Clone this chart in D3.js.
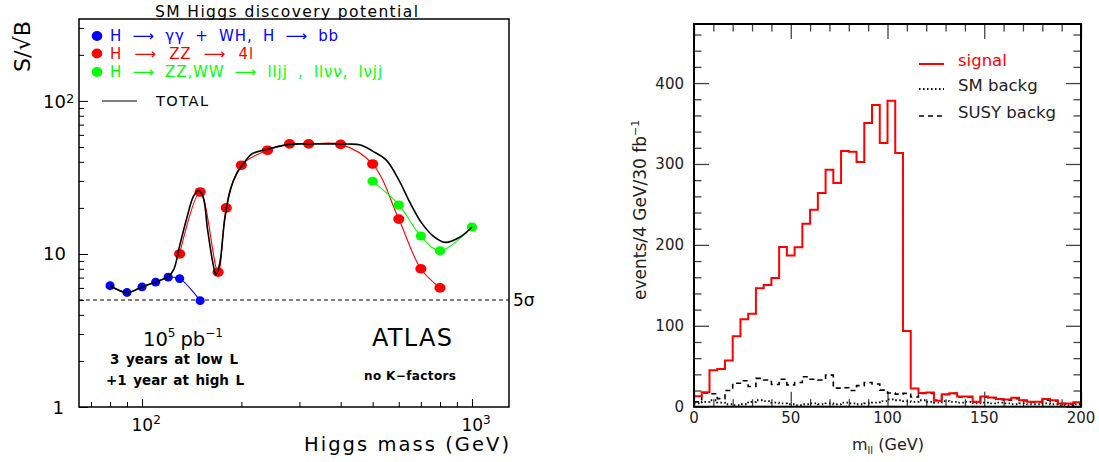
<!DOCTYPE html>
<html>
<head>
<meta charset="utf-8">
<script src="https://cdn.jsdelivr.net/npm/d3@7"></script>
<style>
body { margin: 0; background: #fff; }
svg { display: block; }
text { font-family: "DejaVu Sans", sans-serif; }
</style>
</head>
<body>
<svg id="chart" width="1099" height="462"></svg>
<script>
// LEFT: SM Higgs discovery potential (S/sqrt(B) vs Higgs mass)
const blueMass = [80, 90, 100, 110, 120, 130, 150];
const blueSig = [6.2, 5.6, 6.1, 6.55, 7.05, 6.9, 4.95];
const redMass = [130, 150, 170, 180, 200, 240, 280, 320, 400, 500, 600, 700, 800];
const redSig = [10, 25.4, 7.6, 20, 38, 47.6, 52.4, 52.4, 52, 38.7, 16.9, 8.0, 6.0];
const greenMass = [500, 600, 700, 800, 1000];
const greenSig = [29.9, 20.9, 13.1, 10.5, 15.0];
const totalMass = [80, 90, 100, 110, 120, 125, 130, 137, 143, 148, 153, 158, 164, 167.5, 172, 178, 185, 194, 205, 215, 240, 280, 330, 420, 460, 500, 550, 600, 650, 700, 760, 830, 920, 1000];
const totalSig = [6.2, 5.6, 6.1, 6.55, 7.1, 8.0, 11.3, 17.5, 23.7, 26.0, 23.7, 14.4, 8.7, 7.3, 8.7, 16.7, 26.2, 33.7, 40.1, 45.0, 48.3, 52.0, 52.3, 52.3, 51.5, 47, 41, 30.5, 21.5, 16.2, 13.2, 11.9, 12.9, 15.0];
const fiveSigma = 5;
const legendRows = [
    { color: '#0000ff', label: 'H \u27F6 \u03B3\u03B3 + WH, H \u27F6 bb', width: 229 },
    { color: '#ff0000', label: 'H \u27F6 ZZ \u27F6 4l', width: 144 },
    { color: '#00ff00', label: 'H \u27F6 ZZ,WW \u27F6 lljj , ll\u03BD\u03BD, l\u03BDjj', width: 273 }
];

// RIGHT: m_ll distribution, 4 GeV bins from 0 to 200
const binWidth = 4;
const signal = [13, 18, 45, 46.5, 57, 87, 108, 115, 146.5, 150.5, 159, 197.5, 187, 197, 226, 243.5, 264, 293, 276.5, 316,
    315, 302.5, 350.5, 373, 326, 378, 313.5, 93.5, 22.5, 17, 17.5, 7.5, 15.5, 16.5, 12.5, 12.5, 6, 12.5, 11.5, 9.5,
    9, 11, 8, 6, 6, 9.5, 8, 4, 4, 5.5];
const susyBackg = [6, 17, 16, 10, 20, 29, 32, 25, 35, 33, 27.5, 34, 27, 30, 37, 34, 33, 39, 23, 23.5,
    20, 26, 30, 28, 20.5, 17, 15.5, 16.5, 12, 16.5, 16.5, 8, 15, 16.5, 12, 12, 6, 12, 11, 9,
    8, 10, 7.5, 6, 6, 8, 7, 4, 3.5, 4];
const smBackg = [4, 6, 8, 5, 3, 2, 3, 6, 8, 7, 5, 4, 3, 2, 3, 4, 3, 4, 3, 5,
    4, 3, 4, 5, 7, 9, 8, 7, 6, 8, 6, 5, 7, 6, 5, 6, 4, 5, 4, 5,
    4, 3, 4, 3, 3, 4, 3, 2, 2, 3];
const mllTicks = [0, 50, 100, 150, 200];
const eventTicks = [0, 100, 200, 300, 400];
const histLegend = [
    { label: 'signal', color: '#ff0000', dash: null, width: 2 },
    { label: 'SM backg', color: '#000', dash: '1.5,2.5', width: 1.8 },
    { label: 'SUSY backg', color: '#000', dash: '5,4', width: 1.6 }
];

const svg = d3.select('#chart');

// stretch the gaps between words so a line spans the given width
function fitWords(sel, target) {
    const gaps = sel.text().split(' ').length - 1;
    const w = sel.node().getComputedTextLength();
    if (gaps > 0) sel.style('word-spacing', ((target - w) / gaps) + 'px');
}

// ---------------- left panel ----------------
const L = { left: 79, right: 509, top: 19, bottom: 407 };
const xL = d3.scaleLog().domain([64.4, 1295]).range([L.left, L.right]);
const yL = d3.scaleLog().domain([1, 343]).range([L.bottom, L.top]);
const isDecade = v => Math.abs(Math.log10(v) - Math.round(Math.log10(v))) < 1e-9;

const left = svg.append('g').attr('class', 'left');

// ticks, inside, only bottom and left
left.append('g')
    .attr('transform', `translate(0,${L.bottom})`)
    .call(d3.axisBottom(xL).tickValues(xL.ticks()).tickSize(-5).tickFormat(''))
    .call(g => g.select('.domain').remove())
    .call(g => g.selectAll('.tick line').attr('y2', d => isDecade(d) ? -8 : -5).attr('stroke-width', 1));
left.append('g')
    .attr('transform', `translate(${L.left},0)`)
    .call(d3.axisLeft(yL).tickValues(yL.ticks()).tickSize(-5).tickFormat(''))
    .call(g => g.select('.domain').remove())
    .call(g => g.selectAll('.tick line').attr('x2', d => isDecade(d) ? 9 : 5).attr('stroke-width', 1));

left.append('rect')
    .attr('x', L.left).attr('y', L.top)
    .attr('width', L.right - L.left).attr('height', L.bottom - L.top)
    .attr('fill', 'none').attr('stroke', 'black').attr('stroke-width', 1.5);

// decade labels on y
yL.ticks().filter(isDecade).forEach(v => {
    const p = Math.round(Math.log10(v));
    const t = left.append('text').attr('y', yL(v) + 6.5).attr('font-size', 18);
    if (p === 0) t.attr('x', 64).attr('text-anchor', 'end').text('1');
    else if (p === 1) t.attr('x', 66).attr('text-anchor', 'end').text('10');
    else {
        t.attr('x', 43).attr('y', yL(v) + 7);
        t.append('tspan').text('10');
        t.append('tspan').attr('font-size', 13).attr('dy', -5).text(p);
    }
});
// decade labels on x
xL.ticks().filter(isDecade).forEach(v => {
    const p = Math.round(Math.log10(v));
    const t = left.append('text').attr('x', xL(v) - 10.5).attr('y', 430.5).attr('font-size', 17);
    t.append('tspan').text('10');
    t.append('tspan').attr('font-size', 12).attr('dy', -7).text(p);
});

left.append('text').attr('x', L.right).attr('y', 451).attr('text-anchor', 'end')
    .attr('font-size', 19.5).attr('textLength', 205).attr('lengthAdjust', 'spacing')
    .text('Higgs mass (GeV)');
left.append('text').attr('transform', 'translate(30,46.5) rotate(-90)').attr('text-anchor', 'middle')
    .attr('font-size', 22).attr('textLength', 51).attr('lengthAdjust', 'spacingAndGlyphs')
    .text('S/\u221AB');
left.append('text').attr('x', 286.5).attr('y', 16.5).attr('text-anchor', 'middle')
    .attr('font-size', 15.5).attr('textLength', 263).attr('lengthAdjust', 'spacing')
    .text('SM Higgs discovery potential');

// 5 sigma line
left.append('line')
    .attr('x1', L.left).attr('x2', L.right)
    .attr('y1', yL(fiveSigma)).attr('y2', yL(fiveSigma))
    .attr('stroke', 'black').attr('stroke-width', 1).attr('stroke-dasharray', '4,3');
left.append('text').attr('x', 513).attr('y', yL(fiveSigma) + 6).attr('font-size', 17).text('5\u03C3');

// channel curves
const channels = [
    { mass: blueMass, sig: blueSig, color: '#0000ff', rx: 4.6, ry: 4.4 },
    { mass: redMass, sig: redSig, color: '#ff0000', rx: 5.6, ry: 4.8 },
    { mass: greenMass, sig: greenSig, color: '#00ff00', rx: 5.2, ry: 4.5 }
];
const curve = d3.line().x(d => xL(d[0])).y(d => yL(d[1])).curve(d3.curveCatmullRom.alpha(0.5));
channels.forEach(c => {
    left.append('path').datum(d3.zip(c.mass, c.sig))
        .attr('d', curve).attr('fill', 'none').attr('stroke', c.color).attr('stroke-width', 1.1);
});
channels.forEach(c => {
    left.append('g').selectAll('ellipse').data(d3.zip(c.mass, c.sig)).join('ellipse')
        .attr('cx', d => xL(d[0])).attr('cy', d => yL(d[1]))
        .attr('rx', c.rx).attr('ry', c.ry).attr('fill', c.color);
});
left.append('path').datum(d3.zip(totalMass, totalSig))
    .attr('d', curve).attr('fill', 'none').attr('stroke', 'black').attr('stroke-width', 1.6);

// legend
legendRows.forEach((r, i) => {
    const cy = [36, 53.5, 72][i];
    left.append('ellipse').attr('cx', 97).attr('cy', cy).attr('rx', 5.3).attr('ry', 5).attr('fill', r.color);
    const t = left.append('text').attr('x', 110).attr('y', cy + 5.2).attr('font-size', 15)
        .style('letter-spacing', '0.9px').attr('fill', r.color).text(r.label);
    fitWords(t, r.width);
});
left.append('line').attr('x1', 102).attr('x2', 137).attr('y1', 101).attr('y2', 101)
    .attr('stroke', 'black').attr('stroke-width', 1.2);
left.append('text').attr('x', 156).attr('y', 106).attr('font-size', 14.5)
    .attr('textLength', 52).attr('lengthAdjust', 'spacing').text('TOTAL');

// annotations
const lumi = left.append('text').attr('x', 143).attr('y', 346).attr('font-size', 19.5);
lumi.append('tspan').text('10');
lumi.append('tspan').attr('font-size', 12).attr('dy', -9).text('5');
lumi.append('tspan').attr('dy', 9).attr('dx', 5).text('pb');
lumi.append('tspan').attr('font-size', 12).attr('dy', -9).text('\u22121');
const sub1 = left.append('text').attr('x', 110).attr('y', 364)
    .attr('font-size', 13.5).attr('font-weight', 'bold').text('3 years at low L');
fitWords(sub1, 128);
const sub2 = left.append('text').attr('x', 106).attr('y', 385)
    .attr('font-size', 13.5).attr('font-weight', 'bold').text('+1 year at high L');
fitWords(sub2, 138);
left.append('text').attr('x', 412).attr('y', 346).attr('text-anchor', 'middle')
    .attr('font-size', 24).attr('textLength', 80).attr('lengthAdjust', 'spacing').text('ATLAS');
left.append('text').attr('x', 364).attr('y', 380)
    .attr('font-size', 12).attr('font-weight', 'bold')
    .attr('textLength', 92).attr('lengthAdjust', 'spacing').text('no K\u2212factors');

// ---------------- right panel ----------------
const R = { left: 694, right: 1081, top: 24, bottom: 406.7 };
const xR = d3.scaleLinear().domain([0, 200]).range([R.left, R.right]);
const yR = d3.scaleLinear().domain([0, 473]).range([R.bottom, R.top]);
const right = svg.append('g').attr('class', 'right');
const tickColor = '#444';

function innerTicks(axis, scale, values, size, pos) {
    right.append('g').attr('transform', pos)
        .call(axis(scale).tickValues(values).tickSize(size).tickFormat(''))
        .call(g => g.select('.domain').remove())
        .call(g => g.selectAll('.tick line').attr('stroke', tickColor).attr('stroke-width', 1.3));
}
const xMinor = d3.range(0, 201, 10).filter(v => v % 50 !== 0);
const yMinor = d3.range(0, 473, 20).filter(v => v % 100 !== 0);
innerTicks(d3.axisBottom, xR, mllTicks, -15, `translate(0,${R.bottom})`);
innerTicks(d3.axisBottom, xR, xMinor, -7.5, `translate(0,${R.bottom})`);
innerTicks(d3.axisTop, xR, mllTicks, -15, `translate(0,${R.top})`);
innerTicks(d3.axisTop, xR, xMinor, -7.5, `translate(0,${R.top})`);
innerTicks(d3.axisLeft, yR, eventTicks, -15, `translate(${R.left},0)`);
innerTicks(d3.axisLeft, yR, yMinor, -7.5, `translate(${R.left},0)`);
innerTicks(d3.axisRight, yR, eventTicks, -15, `translate(${R.right},0)`);
innerTicks(d3.axisRight, yR, yMinor, -7.5, `translate(${R.right},0)`);

right.selectAll('text.ylab').data(eventTicks).join('text').attr('class', 'ylab')
    .attr('x', 684).attr('y', d => yR(d) + 5.5).attr('text-anchor', 'end')
    .attr('font-size', 15).attr('fill', '#222').text(d => d);
right.selectAll('text.xlab').data(mllTicks).join('text').attr('class', 'xlab')
    .attr('x', d => xR(d)).attr('y', 422.7).attr('text-anchor', 'middle')
    .attr('font-size', 15).attr('fill', '#222').text(d => d);

const xt = right.append('text').attr('x', 852).attr('y', 450).attr('font-size', 16).attr('fill', '#222');
xt.append('tspan').text('m');
xt.append('tspan').attr('font-size', 10).attr('dy', 4).text('ll');
xt.append('tspan').attr('dy', -4).text(' (GeV)');
const yt = right.append('text').attr('transform', 'translate(646,300) rotate(-90)')
    .attr('font-size', 17).attr('fill', '#222');
yt.append('tspan').text('events/4 GeV/30 fb');
yt.append('tspan').attr('font-size', 11).attr('dy', -7).text('\u22121');

// histograms as steps
const step = d3.line().x(d => xR(d[0])).y(d => yR(d[1])).curve(d3.curveStepAfter);
const histPoints = vals => vals.map((v, i) => [i * binWidth, v]).concat([[vals.length * binWidth, vals[vals.length - 1]]]);
right.append('path').datum(histPoints(smBackg)).attr('d', step).attr('fill', 'none')
    .attr('stroke', 'black').attr('stroke-width', 1.8).attr('stroke-dasharray', '1.5,2.5');
right.append('path').datum(histPoints(susyBackg)).attr('d', step).attr('fill', 'none')
    .attr('stroke', 'black').attr('stroke-width', 1.6).attr('stroke-dasharray', '5,4');
right.append('path').datum(histPoints(signal)).attr('d', step).attr('fill', 'none')
    .attr('stroke', '#ff0000').attr('stroke-width', 2);

right.append('rect')
    .attr('x', R.left).attr('y', R.top)
    .attr('width', R.right - R.left).attr('height', R.bottom - R.top)
    .attr('fill', 'none').attr('stroke', 'black').attr('stroke-width', 2);

histLegend.forEach((h, i) => {
    const cy = [64, 89, 116][i];
    right.append('line').attr('x1', 919).attr('x2', 944).attr('y1', cy).attr('y2', cy)
        .attr('stroke', h.color).attr('stroke-width', h.width).attr('stroke-dasharray', h.dash);
    right.append('text').attr('x', 958).attr('y', cy + 2).attr('font-size', 16.5)
        .attr('fill', i === 0 ? '#ff0000' : '#222').text(h.label);
});
</script>
</body>
</html>
